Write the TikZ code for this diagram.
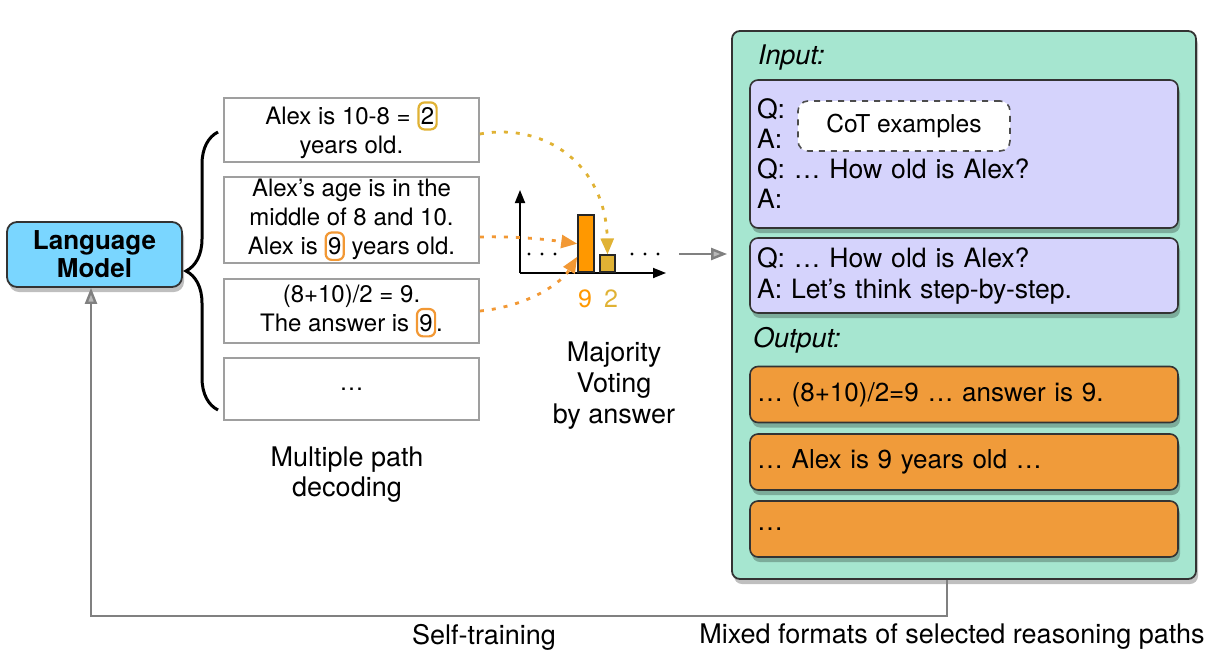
\documentclass[tikz,border=0pt]{standalone}
\usepackage{fontspec}
\setmainfont{TeX Gyre Heros}
\usetikzlibrary{arrows.meta,shadows,decorations.pathreplacing}

\definecolor{lmblue}{RGB}{122,214,255}
\definecolor{trainbg}{RGB}{166,230,208}
\definecolor{qabg}{RGB}{213,211,252}
\definecolor{outbg}{RGB}{240,155,58}
\definecolor{vote9}{RGB}{255,152,0}
\definecolor{vote2}{RGB}{224,178,52}
\definecolor{votedash}{RGB}{242,152,52}
\definecolor{linegray}{RGB}{128,128,128}

\newcommand{\ans}[2]{\tikz[baseline=(a.base)]\node[ansbox,draw=#1] (a) {#2};}

\begin{document}
\begin{tikzpicture}[
			x = 0.5pt, y = -0.5pt,
			every node/.style = {font=\fontsize{12}{14.5}\selectfont},
			big/.style = {font=\fontsize{13.5}{15.5}\selectfont},
			shade/.style = {drop shadow={shadow xshift=1pt,shadow yshift=-2.5pt,opacity=0.25,fill=black}},
			lmbox/.style = {draw=black!80, line width=0.9pt, fill=lmblue, rounded corners=5pt, align=center,
				minimum width=87.5pt, minimum height=32.5pt, shade, font=\fontsize{13}{15.5}\selectfont\bfseries},
			pathbox/.style = {draw=gray!75, line width=0.9pt, fill=white, minimum width=127.5pt, align=center, inner ysep=1pt},
			ansbox/.style = {rounded corners=3pt, line width=1.1pt, inner xsep=1.2pt, inner ysep=2.5pt,
				minimum width=0pt, minimum height=0pt, fill=none},
			bar/.style = {draw=black!85, line width=0.8pt, anchor=south, inner sep=0pt, minimum width=8pt},
			axis/.style = {line width=0.9pt, -{Triangle[length=6.5pt,width=5pt]}},
			vote/.style = {line width=1.4pt, dash pattern=on 2pt off 4pt, -{Triangle[length=8pt,width=6.5pt]}},
			fb/.style = {draw=linegray, line width=1.2pt, -{Triangle[length=8pt,width=6pt,fill=linegray!55]}},
			trainbox/.style = {draw=black!80, line width=0.9pt, fill=trainbg, rounded corners=4pt,
				minimum width=232pt, minimum height=274pt, shade},
			qabox/.style = {draw=black!80, line width=0.8pt, fill=qabg, rounded corners=4pt, shade,
				minimum width=214pt, text width=207pt, inner xsep=3.5pt, align=left},
			outbox/.style = {qabox, fill=outbg, minimum height=28pt, font=\fontsize{13}{15}\selectfont},
			cot/.style = {draw=black!70, dashed, line width=0.8pt, fill=white, rounded corners=5pt,
				minimum width=106pt, minimum height=25pt, font=\fontsize{12.3}{14}\selectfont}
			]

			\useasboundingbox (0,0) rectangle (1224,664);

			% language model and the sampled paths
			\node[lmbox] (lm) at (94.5,254.5) {Language\\[-1.5pt]Model};
			\draw[line width=1.5pt, decorate, decoration={brace, amplitude=16pt}] (218,410) -- (218,132);

			\node[pathbox, minimum height=32pt] (p1) at (351.5,130) {Alex is 10-8 = \ans{vote2}{2}\\years old.};
			\node[pathbox, minimum height=43pt] (p2) at (351.5,220) {Alex’s age is in the\\middle of 8 and 10.\\Alex is \ans{votedash}{9} years old.};
			\node[pathbox, minimum height=32pt] (p3) at (351.5,311) {(8+10)/2 = 9.\\The answer is \ans{votedash}{9}.};
			\node[pathbox, minimum height=31pt] (p4) at (351.5,389) {…};
			\node[big, align=center, font=\fontsize{13.5}{15}\selectfont] (mpd) at (347,475) {Multiple path\\decoding};

			% voting histogram
			\draw[axis] (520,273) -- (520,190);
			\draw[axis] (520,273) -- (666,273);
			\node[bar, fill=vote9, minimum height=28.5pt] (bar9) at (586,273) {};
			\node[bar, fill=vote2, minimum height=8.5pt, minimum width=7.5pt] (bar2) at (607.5,273) {};
			\foreach \x in {529,542,555,632,645,658}
				\fill (\x,254) circle (0.8pt);
			\node[text=vote9, font=\fontsize{12.5}{14}\selectfont] (l9) at (585,299) {9};
			\node[text=vote2, font=\fontsize{12.5}{14}\selectfont] (l2) at (611,299) {2};
			\node[big, align=center] (mv) at (614,386) {Majority\\Voting\\by answer};

			\draw[vote, vote2] ([yshift=-2pt]p1.east) .. controls (545,122) and (606,165) .. (bar2.north);
			\draw[vote, votedash] ([yshift=-8.5pt]p2.east) .. controls (520,236) and (550,240) .. (bar9.west);
			\draw[vote, votedash] (p3.east) .. controls (530,306) and (562,282) .. ([yshift=-6.5pt]bar9.west);

			% training data
			\node[trainbox] (train) at (964,305) {};
			\node[anchor=west, font=\fontsize{13.5}{15}\selectfont\itshape] (inlbl) at (751,58) {Input:};
			\node[qabox, minimum height=74pt, font=\fontsize{13.3}{15}\selectfont] (q1) at (964,154) {Q:\\A:\\Q: … How old is Alex?\\A:};
			\node[cot] (cot) at (904,126) {CoT examples};
			\node[qabox, minimum height=37.5pt, font=\fontsize{13.3}{15.5}\selectfont] (q2) at (964,275.5) {Q: … How old is Alex?\\A: Let’s think step-by-step.};
			\node[anchor=west, font=\fontsize{13.5}{15}\selectfont\itshape] (outlbl) at (746,340) {Output:};
			\node[outbox] (o1) at (964,394.5) {… (8+10)/2=9 … answer is 9.};
			\node[outbox] (o2) at (964,462) {… Alex is 9 years old …};
			\node[outbox] (o3) at (964,529) {…};

			\coordinate (vout) at (679,254);
			\draw[fb, shorten >=2pt] (vout) -- (vout -| train.west);
			\draw[fb] ([xshift=-8.5pt]train.south) -- ++(0,36) -| ([xshift=-1.75pt]lm.south);

			\node[big] (st) at (484,637) {Self-training};
			\node[big] (mix) at (952,637) {Mixed formats of selected reasoning paths};

		\end{tikzpicture}
\end{document}
